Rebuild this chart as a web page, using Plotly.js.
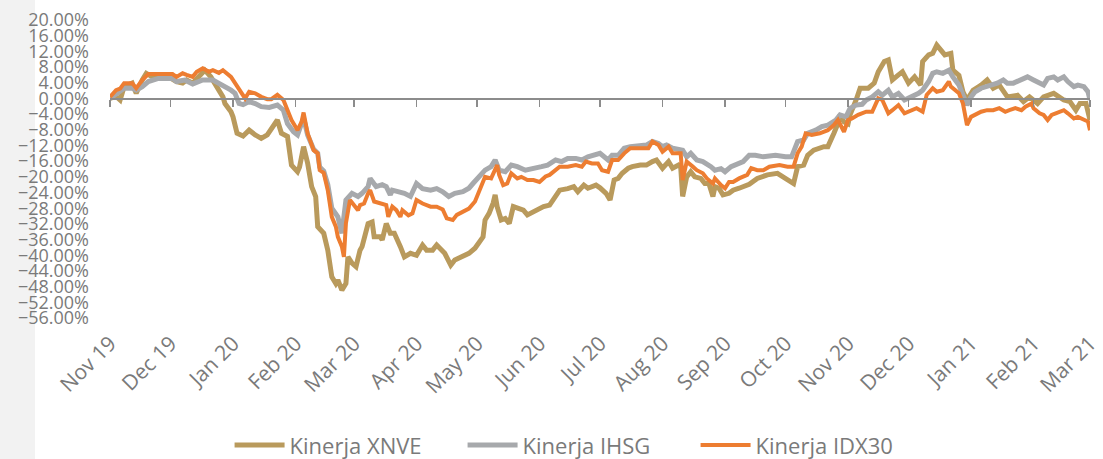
<!DOCTYPE html>
<html>
<head>
<meta charset="utf-8">
<script src="https://cdn.plot.ly/plotly-3.0.1.min.js"></script>
<style>
  html, body { margin: 0; padding: 0; background: #ffffff; }
  #chart { width: 1103px; height: 459px; background: linear-gradient(to right, #f2f2f2 0px, #f2f2f2 35px, #ffffff 35px); }
</style>
</head>
<body>
<div id="chart"></div>
<script>
// ---- Series names ----
const seriesNames = ["Kinerja XNVE", "Kinerja IHSG", "Kinerja IDX30"];

// ---- Kinerja XNVE (%) ----
const xnveDates = ["2019-11-01","2019-11-04","2019-11-06","2019-11-08","2019-11-12","2019-11-14","2019-11-17","2019-11-19","2019-11-22","2019-11-26","2019-11-30",
"2019-12-04","2019-12-07","2019-12-09","2019-12-12","2019-12-15","2019-12-18","2019-12-21","2019-12-22","2019-12-24","2019-12-27","2019-12-28","2019-12-31",
"2020-01-01","2020-01-02","2020-01-03","2020-01-06","2020-01-09","2020-01-12","2020-01-15","2020-01-18","2020-01-21","2020-01-23","2020-01-25","2020-01-28","2020-01-30",
"2020-02-02","2020-02-03","2020-02-05","2020-02-07","2020-02-09","2020-02-11","2020-02-12","2020-02-15","2020-02-17","2020-02-19","2020-02-21","2020-02-22","2020-02-24","2020-02-26","2020-02-27","2020-02-29",
"2020-03-02","2020-03-04","2020-03-05","2020-03-08","2020-03-10","2020-03-11","2020-03-14","2020-03-15","2020-03-17","2020-03-19","2020-03-21","2020-03-24","2020-03-26","2020-03-29",
"2020-04-01","2020-04-04","2020-04-06","2020-04-09","2020-04-11","2020-04-15","2020-04-18","2020-04-20","2020-04-24","2020-04-27","2020-04-30",
"2020-05-04","2020-05-05","2020-05-07","2020-05-09","2020-05-10","2020-05-11","2020-05-13","2020-05-15","2020-05-17","2020-05-19","2020-05-21","2020-05-24","2020-05-26","2020-05-29","2020-05-31",
"2020-06-03","2020-06-06","2020-06-09","2020-06-11","2020-06-15","2020-06-18","2020-06-20","2020-06-23","2020-06-25","2020-06-29",
"2020-07-01","2020-07-04","2020-07-06","2020-07-08","2020-07-10","2020-07-12","2020-07-15","2020-07-17","2020-07-21","2020-07-24","2020-07-27","2020-07-29",
"2020-08-01","2020-08-04","2020-08-06","2020-08-09","2020-08-10","2020-08-11","2020-08-13","2020-08-15","2020-08-17","2020-08-20","2020-08-22","2020-08-24","2020-08-26","2020-08-27","2020-08-29","2020-08-31",
"2020-09-03","2020-09-05","2020-09-08","2020-09-13","2020-09-17","2020-09-22","2020-09-27",
"2020-10-02","2020-10-05","2020-10-07","2020-10-10","2020-10-12","2020-10-15","2020-10-20","2020-10-22","2020-10-25","2020-10-27","2020-10-28","2020-10-30",
"2020-11-01","2020-11-02","2020-11-05","2020-11-07","2020-11-11","2020-11-14","2020-11-16","2020-11-19","2020-11-21","2020-11-23","2020-11-26","2020-11-28",
"2020-12-01","2020-12-04","2020-12-07","2020-12-08","2020-12-11","2020-12-13","2020-12-15","2020-12-17","2020-12-19","2020-12-22","2020-12-23","2020-12-26","2020-12-28","2020-12-30",
"2021-01-02","2021-01-06","2021-01-09","2021-01-12","2021-01-15","2021-01-19","2021-01-24","2021-01-27","2021-01-30",
"2021-02-03","2021-02-06","2021-02-11","2021-02-16","2021-02-19","2021-02-22","2021-02-24","2021-02-27","2021-03-01"];
const xnveValues = [0,0.5,-0.4,3.0,3.9,1.3,4.7,6.4,5.5,5.1,5.5,
4.3,3.9,4.7,3.9,5.5,7.2,5.5,4.7,2.6,0.4,-1.3,-3.4,
-4.7,-7.2,-8.9,-9.6,-8.1,-9.3,-10.2,-9.3,-7.2,-5.5,-8.9,-9.7,-17,
-18.7,-17.5,-12.3,-16.5,-22.5,-25,-32.7,-34.4,-38.7,-45.5,-47.2,-46.3,-48.9,-47.2,-40.4,-42,
-42.9,-38.7,-37.8,-31.9,-31.5,-35.3,-35.3,-36.1,-31.9,-34.4,-34.4,-37.8,-40.4,-39.5,
-40,-37.4,-38.7,-38.7,-37.4,-39.5,-42.5,-41.2,-40.4,-39.5,-38.2,
-35.3,-31,-29.3,-26.7,-24.6,-27.6,-31,-30.6,-31.9,-27.6,-28,-28.5,-29.7,-28.9,-28.5,
-27.6,-27.2,-25,-23.4,-23,-22.5,-23.8,-22.1,-22.9,-22.1,
-22.8,-24.2,-25.9,-20.8,-20.4,-19.1,-17.8,-17.4,-17,-17,-16.1,-15.7,
-17.8,-16.1,-17.8,-17,-17.4,-25,-20,-18.7,-20,-20.4,-21.7,-21.7,-25,-22.5,-22.9,-24.6,
-24.2,-23.4,-22.9,-21.9,-20.4,-19.5,-19.1,
-20.8,-21.7,-17.4,-17,-14.5,-13.2,-12.3,-12.3,-8.9,-6.4,-4.2,-6.0,
-6.5,-4.2,-0.4,2.6,2.6,3.9,6.8,9.4,9.8,4.7,6.0,6.8,
3.9,5.5,3.4,9.4,11.1,11.5,13.6,12.3,11.1,11.5,7.2,5.9,1.7,-0.4,
2.1,3.4,4.7,2.6,3.4,0.4,0.8,-0.8,0.4,
-1.3,0.4,1.3,-0.4,-0.8,-3.0,-1.3,-1.3,-5.5];

// ---- Kinerja IHSG (%) ----
const ihsgDates = ["2019-11-01","2019-11-04","2019-11-06","2019-11-08","2019-11-12","2019-11-14","2019-11-17","2019-11-20","2019-11-25","2019-11-28",
"2019-12-02","2019-12-04","2019-12-08","2019-12-12","2019-12-17","2019-12-22","2019-12-25","2019-12-27","2019-12-31",
"2020-01-02","2020-01-04","2020-01-06","2020-01-09","2020-01-12","2020-01-15","2020-01-19","2020-01-23","2020-01-26","2020-01-28","2020-01-31",
"2020-02-02","2020-02-05","2020-02-07","2020-02-10","2020-02-12","2020-02-13","2020-02-15","2020-02-17","2020-02-19","2020-02-22","2020-02-24","2020-02-26","2020-02-29",
"2020-03-03","2020-03-05","2020-03-08","2020-03-09","2020-03-12","2020-03-15","2020-03-17","2020-03-19","2020-03-20","2020-03-23","2020-03-26","2020-03-29",
"2020-04-01","2020-04-04","2020-04-08","2020-04-11","2020-04-14","2020-04-17","2020-04-20","2020-04-24","2020-04-27","2020-04-29",
"2020-05-02","2020-05-05","2020-05-08","2020-05-10","2020-05-12","2020-05-15","2020-05-18","2020-05-21","2020-05-25","2020-05-30",
"2020-06-02","2020-06-05","2020-06-09","2020-06-12","2020-06-15","2020-06-19","2020-06-22","2020-06-25","2020-06-29",
"2020-07-01","2020-07-05","2020-07-07","2020-07-10","2020-07-13","2020-07-16","2020-07-21","2020-07-24","2020-07-27","2020-07-30",
"2020-08-01","2020-08-03","2020-08-06","2020-08-11","2020-08-13","2020-08-15","2020-08-18","2020-08-21","2020-08-25","2020-08-27","2020-08-30",
"2020-09-01","2020-09-04","2020-09-07","2020-09-10","2020-09-13","2020-09-16","2020-09-20","2020-09-23","2020-09-26",
"2020-10-01","2020-10-04","2020-10-06","2020-10-07","2020-10-10","2020-10-12","2020-10-16","2020-10-19","2020-10-22","2020-10-26","2020-10-28","2020-10-31",
"2020-11-02","2020-11-05","2020-11-08","2020-11-10","2020-11-13","2020-11-16","2020-11-18","2020-11-21","2020-11-23","2020-11-26","2020-11-29",
"2020-12-03","2020-12-06","2020-12-08","2020-12-11","2020-12-13","2020-12-15","2020-12-18","2020-12-21","2020-12-23","2020-12-26","2020-12-28","2020-12-30",
"2021-01-01","2021-01-03","2021-01-06","2021-01-11","2021-01-14","2021-01-17","2021-01-19","2021-01-22","2021-01-26","2021-01-29",
"2021-02-01","2021-02-03","2021-02-06","2021-02-08","2021-02-11","2021-02-13","2021-02-16","2021-02-18","2021-02-21","2021-02-23","2021-02-26","2021-02-28","2021-03-01"];
const ihsgValues = [0,1.0,1.7,2.6,2.6,2.1,3.0,4.3,5.1,5.1,
5.1,4.3,4.7,3.7,4.7,4.7,3.9,3.3,2.1,
1.3,-1.3,-1.6,-0.8,-1.3,-2.1,-2.3,-1.7,-3.0,-6.4,-8.5,
-9.3,-5.0,-9.3,-13,-14,-17.5,-18.5,-22,-28,-30.2,-34.4,-25.9,-24.2,
-25,-24.2,-22.5,-20.4,-22.5,-22,-22.5,-24.6,-23.4,-23.8,-24.2,-25,
-21.7,-23,-23.4,-23,-23.8,-25,-24.2,-23.8,-22.9,-21.7,
-20,-18.3,-17.4,-15.7,-18.3,-18.7,-17,-17.4,-18.3,-17.9,
-17.4,-17,-15.7,-16.1,-15.3,-15.3,-15.7,-14.9,-14.5,
-14,-15.7,-14.5,-14.5,-12.7,-12.3,-11.9,-11.9,-11,-11.5,
-12.3,-11.9,-12.7,-13.2,-14.9,-14,-15.7,-16.1,-17.4,-18.3,-17.9,
-18.7,-17.4,-16.9,-16.1,-14.5,-14.5,-14.9,-14.7,-14.5,
-14.9,-14.9,-12.3,-11,-10.6,-8.9,-8.1,-7.2,-6.8,-5.5,-4.2,-4.7,
-2.5,-1.7,-1.5,-0.4,0.4,1.7,0.8,2.1,0.4,1.3,-0.4,
0.4,1.3,2.1,4.3,6.4,6.8,6.4,7.2,5.5,3.4,0.9,-1.7,
0.4,1.7,2.6,3.4,3.9,4.7,3.9,3.9,4.7,5.5,
4.7,4.3,3.4,5.1,5.5,4.7,5.5,4.3,3.0,3.4,3.0,1.7,-0.4];

// ---- Kinerja IDX30 (%) ----
const idx30Dates = ["2019-11-01","2019-11-02","2019-11-04","2019-11-06","2019-11-08","2019-11-12","2019-11-14","2019-11-17","2019-11-20","2019-11-26",
"2019-12-02","2019-12-04","2019-12-07","2019-12-09","2019-12-12","2019-12-14","2019-12-17","2019-12-20","2019-12-22","2019-12-25","2019-12-27","2019-12-31",
"2020-01-02","2020-01-06","2020-01-07","2020-01-09","2020-01-12","2020-01-15","2020-01-18","2020-01-20","2020-01-23","2020-01-26","2020-01-28","2020-01-30",
"2020-02-01","2020-02-02","2020-02-04","2020-02-05","2020-02-07","2020-02-10","2020-02-12","2020-02-13","2020-02-15","2020-02-17","2020-02-19","2020-02-21","2020-02-22","2020-02-24","2020-02-25","2020-02-26","2020-02-28",
"2020-03-01","2020-03-03","2020-03-04","2020-03-06","2020-03-08","2020-03-09","2020-03-11","2020-03-14","2020-03-17","2020-03-18","2020-03-20","2020-03-22","2020-03-24","2020-03-25","2020-03-28","2020-03-30",
"2020-04-01","2020-04-04","2020-04-08","2020-04-11","2020-04-14","2020-04-16","2020-04-19","2020-04-21","2020-04-24","2020-04-27","2020-04-30",
"2020-05-03","2020-05-05","2020-05-08","2020-05-09","2020-05-11","2020-05-12","2020-05-14","2020-05-16","2020-05-18","2020-05-21","2020-05-23","2020-05-26","2020-05-29",
"2020-06-01","2020-06-04","2020-06-06","2020-06-09","2020-06-11","2020-06-15","2020-06-19","2020-06-22","2020-06-24","2020-06-27","2020-06-30",
"2020-07-02","2020-07-05","2020-07-07","2020-07-10","2020-07-13","2020-07-16","2020-07-21","2020-07-25","2020-07-27","2020-07-30",
"2020-08-01","2020-08-04","2020-08-06","2020-08-10","2020-08-11","2020-08-13","2020-08-16","2020-08-18","2020-08-21","2020-08-23","2020-08-26","2020-08-27","2020-08-30",
"2020-09-01","2020-09-03","2020-09-05","2020-09-08","2020-09-12","2020-09-14","2020-09-17","2020-09-20","2020-09-23","2020-09-28",
"2020-10-02","2020-10-05","2020-10-07","2020-10-09","2020-10-11","2020-10-14","2020-10-18","2020-10-22","2020-10-25","2020-10-27","2020-10-30",
"2020-11-01","2020-11-03","2020-11-06","2020-11-10","2020-11-13","2020-11-16","2020-11-18","2020-11-21","2020-11-23","2020-11-26","2020-11-29",
"2020-12-03","2020-12-05","2020-12-08","2020-12-10","2020-12-13","2020-12-15","2020-12-18","2020-12-21","2020-12-22","2020-12-24","2020-12-26","2020-12-28","2020-12-29","2020-12-30",
"2021-01-01","2021-01-03","2021-01-06","2021-01-09","2021-01-12","2021-01-15","2021-01-18","2021-01-20","2021-01-23","2021-01-26","2021-01-28","2021-01-31",
"2021-02-01","2021-02-04","2021-02-06","2021-02-08","2021-02-10","2021-02-12","2021-02-14","2021-02-16","2021-02-18","2021-02-21","2021-02-23","2021-02-26","2021-02-28","2021-03-01"];
const idx30Values = [0.4,1.0,2.1,2.5,3.9,3.9,2.6,4.7,6.2,6.2,
6.2,5.5,6.4,6.0,5.5,6.8,7.7,6.8,7.2,6.5,7.2,5.5,
3.9,0.4,0,1.7,1.3,0.4,-0.2,-0.2,0.9,-0.4,-3.0,-5.5,
-7.2,-8.1,-6,-3.6,-8.9,-13.2,-14,-18.3,-19,-23.4,-30.2,-32.7,-35.3,-37.8,-40.4,-31.8,-25.9,
-27.2,-28.5,-27.2,-26.8,-24.2,-23.4,-26.3,-26.8,-27.2,-30.2,-27.6,-28.5,-30.2,-28.5,-29.8,-29.3,
-25.9,-26.8,-27.6,-27.6,-28.3,-30.6,-31,-29.7,-29,-28.1,-26.3,
-22.5,-20,-20.4,-19.1,-17,-19.5,-22.1,-21.7,-19.1,-20.4,-20,-20.8,-20.8,
-21.3,-19.9,-19.5,-18.3,-17.4,-17.4,-17,-17.4,-16.1,-16.6,-16.6,
-18.3,-18.7,-15.7,-15.7,-14,-12.7,-12.7,-12.7,-11,-11.9,
-13.6,-12.3,-14,-14,-20.8,-16.1,-17.4,-18.3,-19.1,-20.4,-21.7,-20.4,-22.1,
-22.9,-21.3,-21.3,-20.4,-19.5,-17.8,-18.3,-18.3,-17.4,-17,
-17.4,-17.4,-14,-12.3,-8.9,-9.3,-8.9,-8.1,-6.8,-5.5,-8.5,
-5.5,-5.1,-4.2,-3.4,-3.4,0,-0.4,-3.8,-3.0,-1.7,-3.8,
-2.9,-2.5,-3.4,0.9,2.6,1.7,2.1,4.3,3.0,2.1,1.3,-1.3,-3.8,-6.8,
-4.7,-4.2,-3.4,-3.0,-3.0,-2.5,-3.4,-3.0,-2.5,-3.0,-2.1,-1.3,
-2.5,-3.8,-4.2,-5.5,-4.2,-3.8,-3.4,-3.0,-3.8,-5.1,-4.7,-5.5,-5.9,-8.1];

// ---- Axis settings ----
const xStart = "2019-11-01";
const xEnd = "2021-03-01";
const yMin = -56, yMax = 20, yStep = 4;

const colors = ["#B99A5C", "#A7A9AC", "#ED7D31"];
const widths = [5, 5, 4];
const textColor = "#7a7a7a";
const fontFamily = "'Open Sans', Lato, sans-serif";

const traces = [
  {x: xnveDates, y: xnveValues, name: seriesNames[0], xaxis: "x", yaxis: "y"},
  {x: ihsgDates, y: ihsgValues, name: seriesNames[1], xaxis: "x", yaxis: "y"},
  {x: idx30Dates, y: idx30Values, name: seriesNames[2], xaxis: "x2", yaxis: "y"}
].map((t, i) => Object.assign(t, {
  type: "scatter", mode: "lines",
  line: {color: colors[i], width: widths[i], shape: "linear"},
  hoverinfo: "skip"
}));

const zeroPos = (0 - yMin) / (yMax - yMin);

const layout = {
  width: 1103, height: 459,
  margin: {l: 110, r: 13, t: 20, b: 141},
  paper_bgcolor: "rgba(0,0,0,0)",
  plot_bgcolor: "rgba(0,0,0,0)",
  font: {family: fontFamily, color: textColor, size: 18},
  showlegend: true,
  legend: {
    orientation: "h", xref: "container", yref: "container",
    x: 0.525, xanchor: "center", y: 0.03, yanchor: "middle",
    font: {size: 22, color: textColor, family: fontFamily},
    itemwidth: 50, entrywidth: 168, tracegroupgap: 0
  },
  xaxis: {
    type: "date", range: [xStart, xEnd],
    anchor: "free", position: zeroPos,
    showline: true, linecolor: "#8c8c8c", linewidth: 1.5,
    ticks: "outside", ticklen: 7, tickwidth: 1.2, tickcolor: "#8c8c8c",
    tick0: xStart, dtick: "M1",
    showticklabels: false, showgrid: false, zeroline: false, fixedrange: true
  },
  xaxis2: {
    type: "date", range: [xStart, xEnd], overlaying: "x", anchor: "y", side: "bottom",
    tick0: xStart, dtick: "M1", tickformat: "%b %y", tickangle: -45,
    ticks: "", showline: false, showgrid: false, zeroline: false,
    tickfont: {size: 21, color: textColor, family: fontFamily},
    ticklabelstandoff: 8, fixedrange: true
  },
  yaxis: {
    range: [yMin, yMax], tick0: 0, dtick: yStep,
    tickformat: ".2f", ticksuffix: "%",
    showgrid: false, zeroline: false, showline: false, ticks: "",
    tickfont: {size: 18, color: textColor, family: fontFamily},
    ticklabelstandoff: 20, fixedrange: true
  }
};

Plotly.newPlot("chart", traces, layout, {staticPlot: true, displayModeBar: false});
</script>
</body>
</html>
